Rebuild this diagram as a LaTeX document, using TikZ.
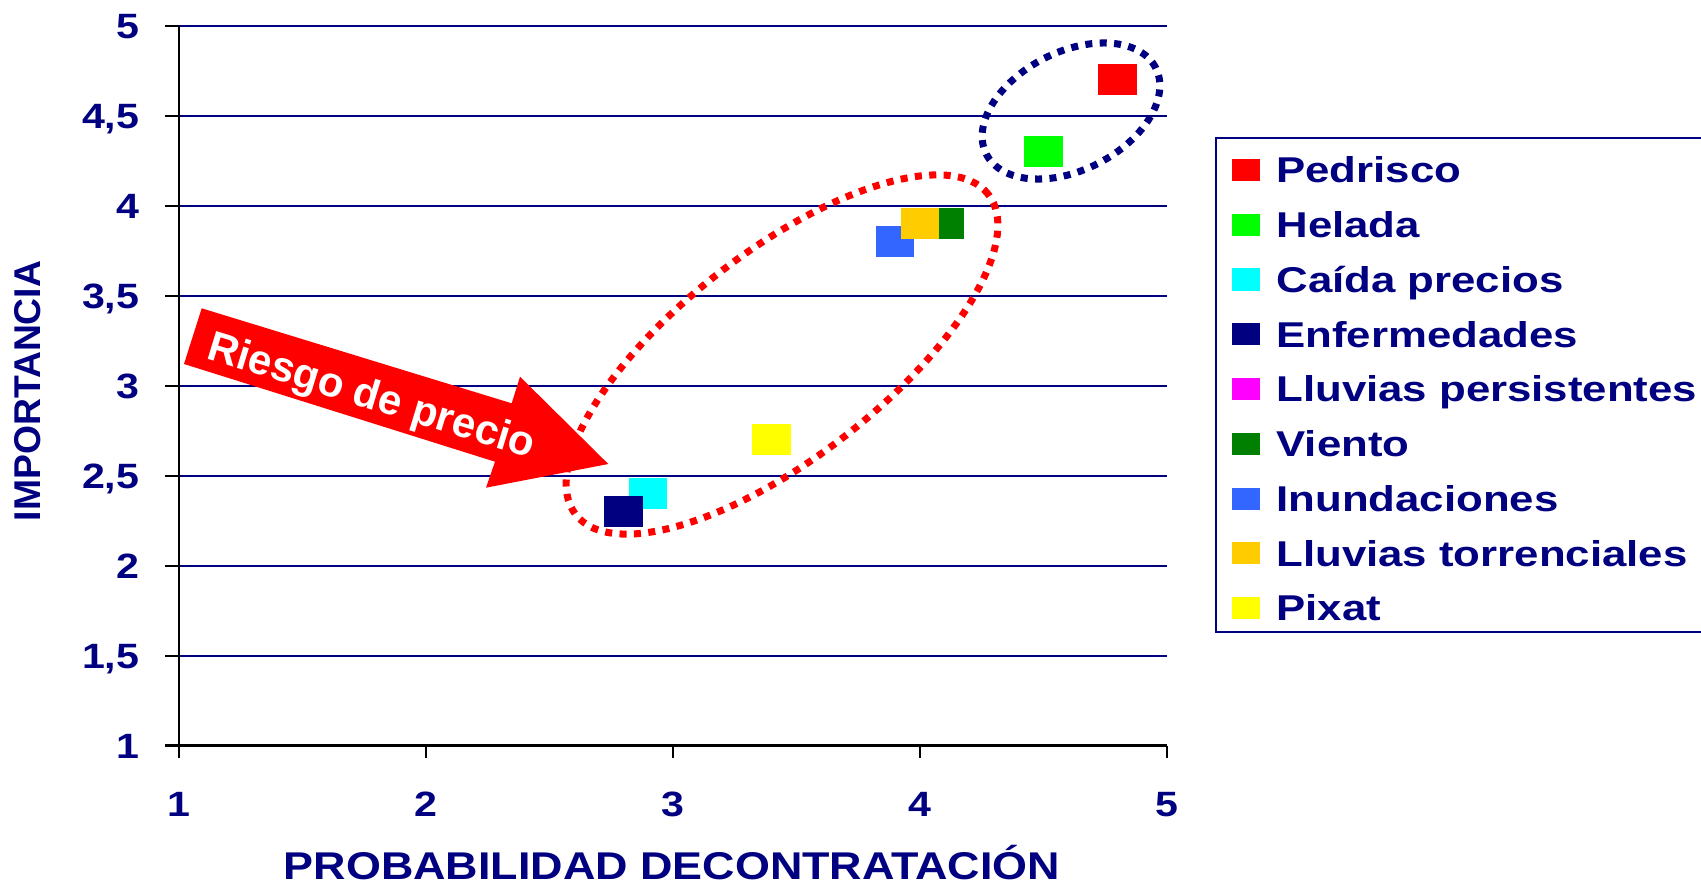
\documentclass[tikz,border=0pt]{standalone}
\usepackage{fontspec}
\setmainfont{Liberation Sans}
\usepackage{graphicx}
\usetikzlibrary{positioning}
\definecolor{navy}{HTML}{000080}
\definecolor{pedrisco}{HTML}{FF0000}
\definecolor{helada}{HTML}{00FF00}
\definecolor{caida}{HTML}{00FFFF}
\definecolor{enfermedades}{HTML}{000080}
\definecolor{persistentes}{HTML}{FF00FF}
\definecolor{viento}{HTML}{008000}
\definecolor{inundaciones}{HTML}{3366FF}
\definecolor{torrenciales}{HTML}{FFCC00}
\definecolor{pixat}{HTML}{FFFF00}
\newcommand{\xstretch}[2]{\scalebox{#1}[1]{#2}}

\begin{document}
\begin{tikzpicture}[x=0.01cm,y=-0.01cm]
      \tikzstyle{gridline}=[draw=navy,line width=0.6pt]
      \tikzstyle{axis}=[draw=black,line width=0.65pt]
      \tikzstyle{ticklabel}=[text=navy,inner sep=0,text height=0.25cm,text depth=0cm,font=\bfseries\fontsize{10}{12}\selectfont]
      \tikzstyle{marker}=[rectangle,inner sep=0,minimum width=0.385cm,minimum height=0.31cm]
      \tikzstyle{swatch}=[rectangle,inner sep=0,minimum width=0.28cm,minimum height=0.22cm]
      \tikzstyle{legendtext}=[text=navy,inner sep=0,text height=0.257cm,text depth=0cm,font=\bfseries\fontsize{10.2}{12}\selectfont]
      \tikzstyle{ring}=[line width=2pt,dash pattern=on 2pt off 2.1pt]
      % Page size
      \useasboundingbox (0,0) rectangle (1701,882);
      % Chart in data units
      \begin{scope}[shift={(179,26)},x=2.468cm,y=1.798cm,shift={(-1,-5)}]
        % Grid lines
        \foreach \v in {1.5,2,...,5}
          \draw[gridline] (1,\v) -- (5,\v);
        % Axes
        \draw[axis] (1,5) -- (1,1) -- (5,1);
        % y ticks and labels
        \foreach \v/\t [count=\i] in {1/1,1.5/{1,5},2/2,2.5/{2,5},3/3,3.5/{3,5},4/4,4.5/{4,5},5/5} {
          \draw[axis] (1,\v) -- ++(-0.14cm,0) coordinate (yt\i);
          \node[ticklabel,left=0.25cm of yt\i] (ylab\i) {\xstretch{1.17}{\t}};
        }
        % x ticks and labels
        \foreach \u in {1,...,5} {
          \draw[axis] (\u,1) -- ++(0,-0.12cm) coordinate (xt\u);
          \node[ticklabel,below=0.33cm of xt\u] (xlab\u) {\xstretch{1.17}{\u}};
        }
        % Risks
        \foreach \xv/\yv/\c in {4.8/4.7/pedrisco,4.5/4.3/helada,2.9/2.4/caida,2.8/2.3/enfermedades,4.0/3.9/persistentes,4.1/3.9/viento,3.9/3.8/inundaciones,4.0/3.9/torrenciales,3.4/2.7/pixat}
          \node[marker,fill=\c] (\c) at (\xv,\yv) {};
      \end{scope}
      % Axis titles
      \node[text=navy,inner sep=0,text height=0.28cm,text depth=0cm,font=\bfseries\fontsize{11}{13}\selectfont] (xtitle) at (672,865) {\xstretch{1.16}{PROBABILIDAD DECONTRATACIÓN}};
      \node[text=navy,inner sep=0,text height=0.27cm,text depth=0cm,rotate=90,font=\bfseries\fontsize{10.6}{13}\selectfont] (ytitle) at (27,391) {IMPORTANCIA};
      % Price risk arrow
      \fill[pedrisco] (201.7,308.3) -- (511.7,403.3) -- (520,376.7) -- (608.3,464) -- (486,487.7) -- (495,461.7) -- (184,364) -- cycle;
      \node[text=white,inner sep=0,rotate=-17,font=\bfseries\fontsize{12}{14}\selectfont] (riesgo) at (371,398) {Riesgo de precio};
      % Dotted groups
      \draw[ring,navy,rotate around={27:(1071,111)}] (1071,111) ellipse [x radius=0.95cm,y radius=0.59cm];
      \draw[ring,pedrisco,rotate around={37.8:(782,354.5)}] (782,354.5) ellipse [x radius=2.61cm,y radius=1.03cm];
      % Legend
      \draw[draw=navy,line width=0.7pt] (1216,138) rectangle (1720,632);
      \foreach \c/\t [count=\i from 0] in {pedrisco/Pedrisco,helada/Helada,caida/Caída precios,enfermedades/Enfermedades,persistentes/Lluvias persistentes,viento/Viento,inundaciones/Inundaciones,torrenciales/Lluvias torrenciales,pixat/Pixat} {
        \node[swatch,fill=\c] (sw\i) at (1246,170+54.75*\i) {};
        \node[legendtext,right=0.15cm of sw\i] (lab\i) {\xstretch{1.22}{\t}};
      }
    \end{tikzpicture}
\end{document}
